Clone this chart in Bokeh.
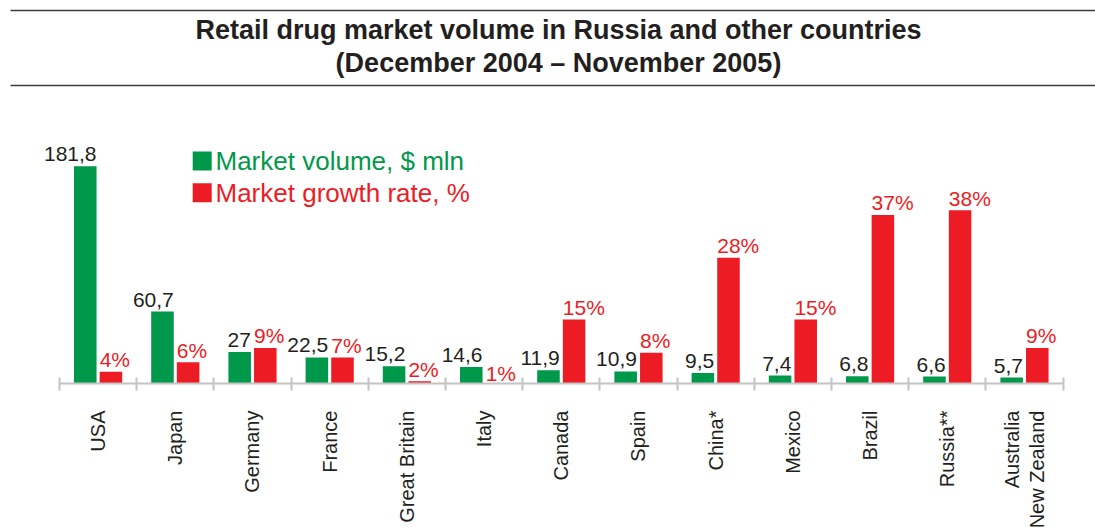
import math
import numpy as np
from bokeh.plotting import figure
from bokeh.models import Range1d, FixedTicker
from bokeh.core.properties import value
from bokeh.embed import file_html
from bokeh.resources import INLINE

# ---------------- data ----------------
countries = ["USA", "Japan", "Germany", "France", "Great Britain", "Italy",
             "Canada", "Spain", "China*", "Mexico", "Brazil", "Russia**",
             "Australia\nNew Zealand"]
volume = [181.8, 60.7, 27, 22.5, 15.2, 14.6, 11.9, 10.9, 9.5, 7.4, 6.8, 6.6, 5.7]
growth = [4, 6, 9, 7, 2, 1, 15, 8, 28, 15, 37, 38, 9]
title_lines = ["Retail drug market volume in Russia and other countries",
               "(December 2004 \u2013 November 2005)"]
legend_labels = ["Market volume, $ mln", "Market growth rate, %"]

# ---------------- style ----------------
GREEN = "#00984A"
RED = "#ED1C24"
INK = "#231F20"
AXIS = "#C4C4C4"
RULE = "#3C3C3C"
FONT = "Liberation Sans"

n = len(countries)
centers = np.arange(n) + 0.5
OFF = 0.166
W = 0.292
xg = centers - OFF
xr = centers + OFF

vol_labels = [f"{v:g}".replace(".", ",") for v in volume]
gr_labels = [f"{v:g}%" for v in growth]

FW, FH = 1095, 383
p = figure(frame_width=FW, frame_height=FH,
           x_range=Range1d(-0.7642, 13.42), y_range=Range1d(0.8, 0.8 + FH / 1.2),
           output_backend="svg", toolbar_location=None, y_axis_location=None,
           min_border_left=0, min_border_right=0, min_border_top=0, min_border_bottom=0,
           background_fill_color="white", border_fill_color="white")
p.outline_line_color = None
p.xgrid.visible = False
p.ygrid.visible = False

p.extra_y_ranges = {"pct": Range1d(1.5, 1.5 + FH / 4.75), "px": Range1d(FH, 0)}
p.extra_x_ranges = {"px": Range1d(0, FW)}

# bars
p.vbar(x=xg, top=volume, bottom=0, width=W, fill_color=GREEN, line_color=None)
p.vbar(x=xr, top=growth, bottom=0, width=W, fill_color=RED, line_color=None,
       y_range_name="pct")

# value labels
p.text(x=xg + W / 2, y=volume, text=vol_labels, text_align="right",
       text_baseline="alphabetic", y_offset=-12, text_font=value(FONT),
       text_font_size="21px", text_color=INK)
p.text(x=xr - W / 2, y=growth, text=gr_labels, text_align="left",
       text_baseline="alphabetic", y_offset=-12, text_font=value(FONT),
       text_font_size="21px", text_color=RED, y_range_name="pct")

# title and rules
p.segment(x0=[10, 10], x1=[1095, 1095], y0=[10, 85], y1=[10, 85],
          line_color=RULE, line_width=1.5, x_range_name="px", y_range_name="px")
p.text(x=[558, 558], y=[29.3, 62.7], text=title_lines, text_align="center",
       text_baseline="alphabetic", text_font=value(FONT), text_font_style="bold",
       text_font_size="27px", text_color=INK, x_range_name="px", y_range_name="px")

# legend
p.rect(x=[201.7, 201.7], y=[160.5, 192.3], width=19, height=19,
       width_units="screen", height_units="screen", fill_color=[GREEN, RED],
       line_color=None, x_range_name="px", y_range_name="px")
p.text(x=[215, 215], y=[160.8, 192.8], text=legend_labels, text_align="left",
       text_baseline="alphabetic", text_font=value(FONT), text_font_size="26px",
       text_color=[GREEN, RED], x_range_name="px", y_range_name="px")

# x axis
ax = p.xaxis[0]
ax.ticker = FixedTicker(ticks=[float(c) for c in centers],
                        minor_ticks=[float(i) for i in range(n + 1)])
ax.major_label_overrides = {float(c): name for c, name in zip(centers, countries)}
ax.major_label_orientation = math.pi / 2
ax.major_tick_line_color = None
ax.major_tick_in = 0
ax.major_tick_out = 0
ax.minor_tick_in = 6
ax.minor_tick_out = 7
ax.minor_tick_line_color = AXIS
ax.minor_tick_line_width = 2
ax.axis_line_color = AXIS
ax.axis_line_width = 2
ax.bounds = (0, n)
ax.major_label_standoff = 20
ax.major_label_text_font = FONT
ax.major_label_text_font_size = "20px"
ax.major_label_text_color = INK
ax.major_label_text_line_height = 1.15

open("out.html", "w").write(file_html(p, INLINE))
